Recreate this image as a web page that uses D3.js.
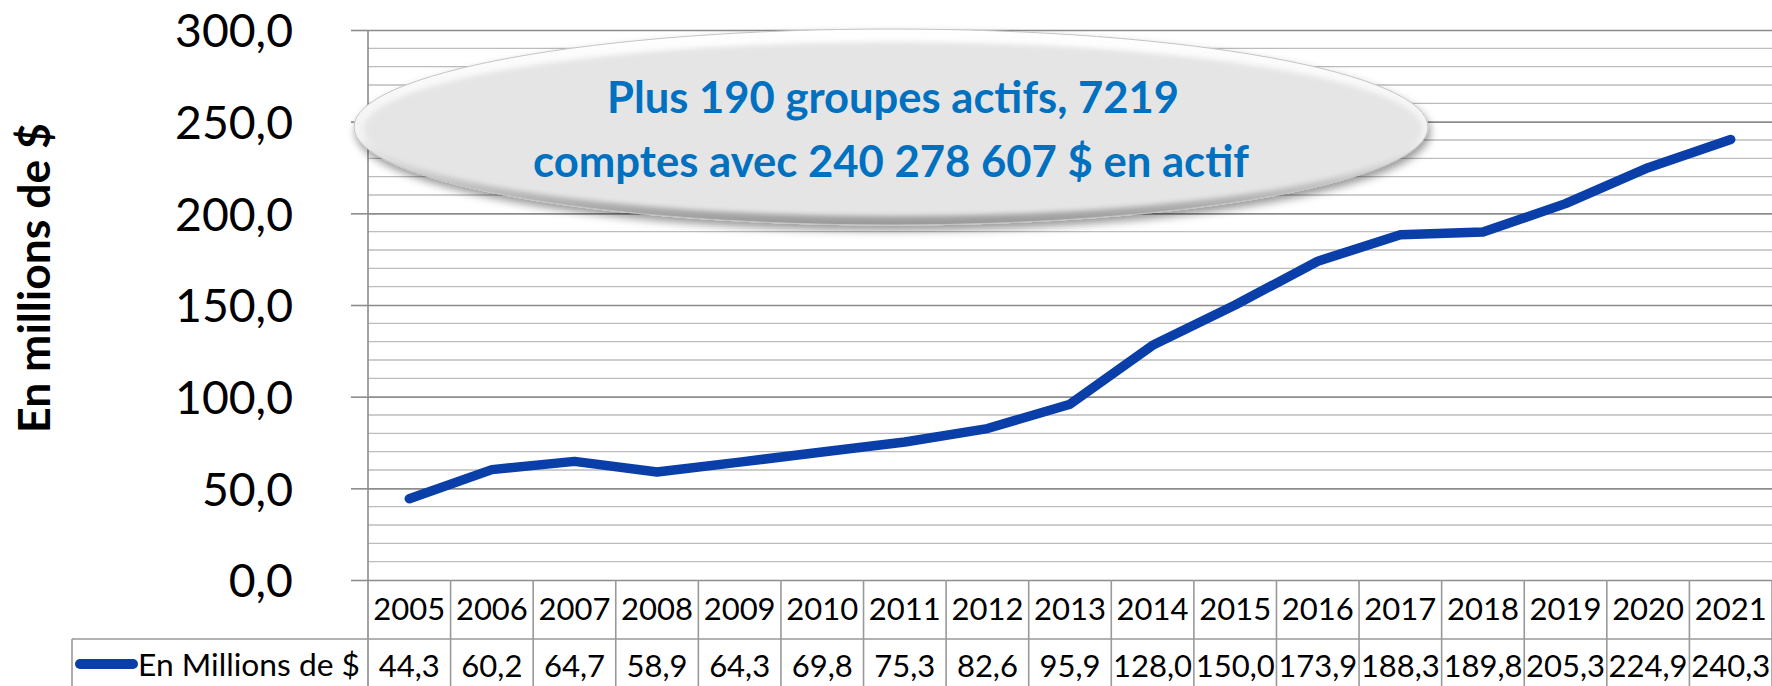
<!DOCTYPE html>
<html><head><meta charset="utf-8">
<script src="https://cdn.jsdelivr.net/npm/d3@7/dist/d3.min.js"></script>
<style>body{margin:0;background:#fff;} svg{display:block;}</style>
</head><body>
<svg id="chart" width="1772" height="686"></svg>
<script>
// ---- data ----
const years = ["2005","2006","2007","2008","2009","2010","2011","2012","2013","2014","2015","2016","2017","2018","2019","2020","2021"];
const values = [44.3,60.2,64.7,58.9,64.3,69.8,75.3,82.6,95.9,128.0,150.0,173.9,188.3,189.8,205.3,224.9,240.3];
const yTicks = [0,50,100,150,200,250,300];
const seriesName = "En Millions de $";
const axisTitle = "En millions de $";
const noteLines = ["Plus 190 groupes actifs, 7219", "comptes avec 240 278 607 $ en actif"];

const fmt = v => d3.format(".1f")(v).replace(".", ",");
const FONT = "Lato, 'Open Sans', sans-serif";

const svg = d3.select("#chart");
const L = 368, R = 1772, T = 30, B = 580;
const rowMid = 639, tableBottom = 686;

const x = d3.scaleBand().domain(years).range([L, R]);
const y = d3.scaleLinear().domain([0, 300]).range([B, T]);

function fit(sel, target) {
  const w = sel.node().getComputedTextLength();
  const fs = parseFloat(sel.attr("font-size"));
  sel.attr("font-size", fs * target / w);
  return fs * target / w;
}

// minor gridlines
const minor = d3.range(0, 301, 10).filter(v => v % 50 !== 0);
svg.append("g").selectAll("line").data(minor).join("line")
  .attr("x1", L).attr("x2", R).attr("y1", d => y(d)).attr("y2", d => y(d))
  .attr("stroke", "#bcbcbc").attr("stroke-width", 1.4);

// major gridlines + ticks via axis
const yAxis = svg.append("g").attr("transform", `translate(${L},0)`)
  .call(d3.axisLeft(y).tickValues(yTicks).tickSize(17).tickFormat(fmt));
yAxis.select(".domain").remove();
yAxis.selectAll(".tick line").attr("stroke", "#8c8c8c").attr("stroke-width", 1.6);
yAxis.selectAll(".tick").append("line")
  .attr("x1", 0).attr("x2", R - L).attr("stroke", "#8c8c8c").attr("stroke-width", 1.6);
const tickText = yAxis.selectAll(".tick text")
  .attr("font-family", FONT).attr("font-size", 46).attr("fill", "#000")
  .attr("x", -(L - 293)).attr("text-anchor", "end").attr("dy", null);
const t300 = yAxis.selectAll(".tick text").filter(d => d === 300);
const tfs = fit(t300, 118);
tickText.attr("font-size", tfs).attr("y", 0.36 * tfs);

// vertical axis line
svg.append("line").attr("x1", L).attr("x2", L).attr("y1", T).attr("y2", tableBottom)
  .attr("stroke", "#8c8c8c").attr("stroke-width", 1.6);

// axis title
const title = svg.append("text")
  .attr("transform", `translate(50,278) rotate(-90)`)
  .attr("text-anchor", "middle")
  .attr("font-family", FONT).attr("font-weight", 700).attr("font-size", 42)
  .text(axisTitle);
fit(title, 310);

// ---- data table ----
const tbl = svg.append("g");
const edges = years.map(d => x(d)).concat([R]);
tbl.selectAll("line.col").data(edges.slice(1)).join("line")
  .attr("class", "col")
  .attr("x1", d => d).attr("x2", d => d).attr("y1", B).attr("y2", tableBottom)
  .attr("stroke", "#999").attr("stroke-width", 1.6);
tbl.append("line").attr("x1", 72).attr("x2", R).attr("y1", rowMid).attr("y2", rowMid)
  .attr("stroke", "#999").attr("stroke-width", 1.6);
tbl.append("line").attr("x1", 72).attr("x2", 72).attr("y1", rowMid).attr("y2", tableBottom)
  .attr("stroke", "#999").attr("stroke-width", 1.6);

const yearText = tbl.selectAll("text.yr").data(years).join("text")
  .attr("class", "yr")
  .attr("x", d => x(d) + x.bandwidth() / 2)
  .attr("text-anchor", "middle").attr("font-family", FONT).attr("font-size", 30)
  .text(d => d);
const yfs = fit(yearText.filter((d, i) => i === 0), 72);
yearText.attr("font-size", yfs).attr("y", 609 + 0.36 * yfs);

tbl.selectAll("text.val").data(values).join("text")
  .attr("class", "val")
  .attr("x", (d, i) => x(years[i]) + x.bandwidth() / 2)
  .attr("y", 666 + 0.36 * yfs)
  .attr("text-anchor", "middle").attr("font-family", FONT).attr("font-size", yfs)
  .text(d => fmt(d));

// legend key
const lineColor = "#0a3ea8";
tbl.append("line").attr("x1", 80).attr("x2", 133).attr("y1", 664).attr("y2", 664)
  .attr("stroke", lineColor).attr("stroke-width", 10).attr("stroke-linecap", "round");
const legText = tbl.append("text").attr("x", 138).attr("y", 665 + 0.36 * yfs)
  .attr("font-family", FONT).attr("font-size", yfs).text(seriesName);
fit(legText, 222);

// ---- line ----
const line = d3.line()
  .x((d, i) => x(years[i]) + x.bandwidth() / 2)
  .y(d => y(d));
svg.append("path").datum(values)
  .attr("d", line).attr("fill", "none")
  .attr("stroke", lineColor).attr("stroke-width", 9.5)
  .attr("stroke-linecap", "round").attr("stroke-linejoin", "round");

// ---- annotation bubble ----
const defs = svg.append("defs");
const f = defs.append("filter").attr("id", "sh").attr("x", "-10%").attr("y", "-30%").attr("width", "120%").attr("height", "170%");
f.append("feDropShadow").attr("dx", 2).attr("dy", 5).attr("stdDeviation", 4)
  .attr("flood-color", "#000").attr("flood-opacity", 0.4);
const rim = defs.append("linearGradient").attr("id", "rim").attr("x1", 0).attr("y1", 0).attr("x2", 0).attr("y2", 1);
rim.append("stop").attr("offset", "0%").attr("stop-color", "#ffffff");
rim.append("stop").attr("offset", "55%").attr("stop-color", "#f2f2f2");
rim.append("stop").attr("offset", "100%").attr("stop-color", "#9a9a9a");
const blur = defs.append("filter").attr("id", "bl");
blur.append("feGaussianBlur").attr("stdDeviation", 2.5);

const cx = 891, cy = 127;
svg.append("ellipse").attr("cx", cx).attr("cy", cy).attr("rx", 537).attr("ry", 98)
  .attr("fill", "url(#rim)").attr("stroke", "#c4c4c4").attr("stroke-width", 1)
  .attr("filter", "url(#sh)");
svg.append("ellipse").attr("cx", cx + 2).attr("cy", cy + 2).attr("rx", 529).attr("ry", 87)
  .attr("fill", "#e5e5e5").attr("filter", "url(#bl)");

const note = svg.append("g").attr("font-family", FONT).attr("font-weight", 700)
  .attr("fill", "#0070c0").attr("text-anchor", "middle");
const n1 = note.append("text").attr("x", 893).attr("y", 113).attr("font-size", 38).text(noteLines[0]);
const n2 = note.append("text").attr("x", 891).attr("y", 177).attr("font-size", 38).text(noteLines[1]);
fit(n1, 572);
fit(n2, 716);
</script>
</body></html>
